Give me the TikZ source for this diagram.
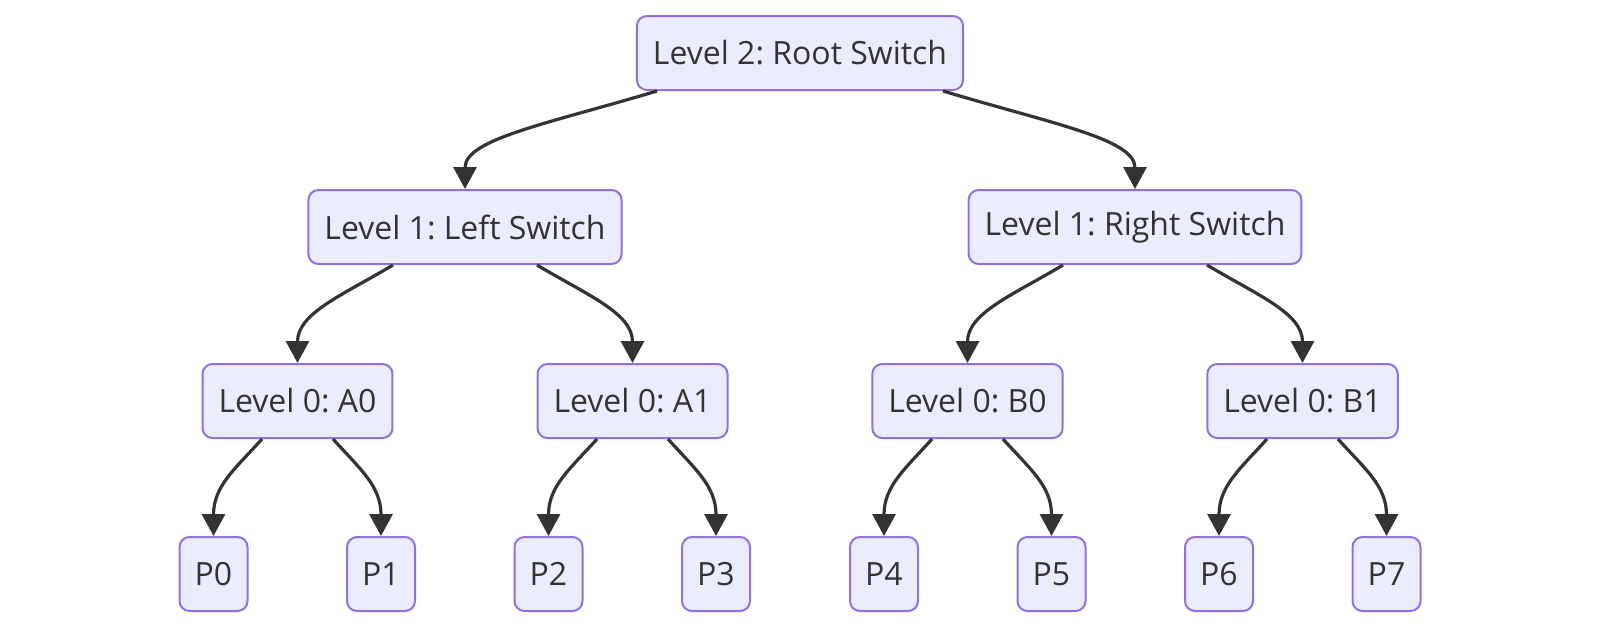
\documentclass[tikz,border=0pt]{standalone}
\usepackage{fontspec}
\setmainfont{Open Sans}
\usetikzlibrary{arrows.meta}
\definecolor{boxfill}{HTML}{ECECFF}
\definecolor{boxline}{HTML}{9370DB}
\definecolor{ink}{HTML}{333333}
\frenchspacing
\begin{document}
\begin{tikzpicture}[x=0.5pt,y=-0.5pt]
        \tikzstyle{switch}=[rectangle,rounded corners=5pt,draw=boxline,line width=1pt,fill=boxfill,text=ink,
                font=\fontsize{16pt}{19pt}\selectfont,minimum height=37pt,inner xsep=8pt]
        \tikzstyle{port}=[switch,minimum width=34pt,inner xsep=0pt]
        \tikzstyle{edge}=[draw=ink,line width=1.6pt,-{Triangle[length=11pt,width=11.5pt]}]
        \useasboundingbox (0,0) rectangle (1600,628);
        \begin{scope}
                \node [switch] (root) at (800,53) {Level 2: Root Switch};
                \node [switch] (ls) at (465,227) {Level 1: Left Switch};
                \node [switch] (rs) at (1135,227) {Level 1: Right Switch};
                \node [switch] (a0) at (297.5,401) {Level 0: A0};
                \node [switch] (a1) at (632.5,401) {Level 0: A1};
                \node [switch] (b0) at (967.5,401) {Level 0: B0};
                \node [switch] (b1) at (1302.5,401) {Level 0: B1};
                \node [port] (p0) at (213.5,574) {P0};
                \node [port] (p1) at (381,574) {P1};
                \node [port] (p2) at (548.5,574) {P2};
                \node [port] (p3) at (716,574) {P3};
                \node [port] (p4) at (884,574) {P4};
                \node [port] (p5) at (1051.5,574) {P5};
                \node [port] (p6) at (1219,574) {P6};
                \node [port] (p7) at (1386.5,574) {P7};
                % root to level 1
                \path[edge] ([xshift=-71.5pt]root.south) .. controls +(-110,33) and +(0,-50) .. (ls.north);
                \path[edge] ([xshift=71.5pt]root.south) .. controls +(110,33) and +(0,-50) .. (rs.north);
                % level 1 to level 0
                \path[edge] ([xshift=-36pt]ls.south) .. controls +(-50,30) and +(0,-50) .. (a0.north);
                \path[edge] ([xshift=36pt]ls.south) .. controls +(50,30) and +(0,-50) .. (a1.north);
                \path[edge] ([xshift=-36pt]rs.south) .. controls +(-50,30) and +(0,-50) .. (b0.north);
                \path[edge] ([xshift=36pt]rs.south) .. controls +(50,30) and +(0,-50) .. (b1.north);
                % level 0 to ports
                \path[edge] ([xshift=-17.75pt]a0.south) .. controls +(-27,30) and +(0,-50) .. (p0.north);
                \path[edge] ([xshift=17.75pt]a0.south) .. controls +(27,30) and +(0,-50) .. (p1.north);
                \path[edge] ([xshift=-17.75pt]a1.south) .. controls +(-27,30) and +(0,-50) .. (p2.north);
                \path[edge] ([xshift=17.75pt]a1.south) .. controls +(27,30) and +(0,-50) .. (p3.north);
                \path[edge] ([xshift=-17.75pt]b0.south) .. controls +(-27,30) and +(0,-50) .. (p4.north);
                \path[edge] ([xshift=17.75pt]b0.south) .. controls +(27,30) and +(0,-50) .. (p5.north);
                \path[edge] ([xshift=-17.75pt]b1.south) .. controls +(-27,30) and +(0,-50) .. (p6.north);
                \path[edge] ([xshift=17.75pt]b1.south) .. controls +(27,30) and +(0,-50) .. (p7.north);
        \end{scope}
\end{tikzpicture}
\end{document}
